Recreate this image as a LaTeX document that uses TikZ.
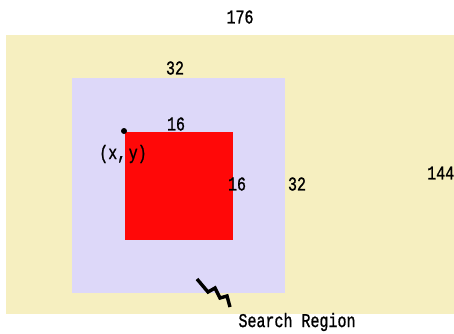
\documentclass[tikz,border=0pt]{standalone}
\usepackage{fontspec}
\setmainfont{Liberation Mono}[FakeBold=1.2]
\definecolor{sryellow}{RGB}{246,239,192}
\definecolor{srlav}{RGB}{221,216,249}
\definecolor{srred}{RGB}{255,8,8}
\newcommand{\srtxt}[1]{\scalebox{1}[1.3]{#1}}
\begin{document}
\begin{tikzpicture}[x=1pt,y=-1pt,
  lbl/.style={inner sep=0pt,font=\fontsize{15}{15}\selectfont},
  area/.style={draw=none,inner sep=0pt,anchor=north west}]
\useasboundingbox[fill=white] (0,0) rectangle (454,333);
\node[area,fill=sryellow,minimum width=450pt,minimum height=279pt] (search) at (6,35) {};
\node[area,fill=srlav,minimum width=213pt,minimum height=215pt] (win) at (72,78) {};
\node[area,fill=srred,minimum width=108pt,minimum height=108pt] (tmpl) at (125,132) {};
\fill (124,131) circle (3pt);
\node[lbl] (t176) at (240,17) {\srtxt{176}};
\node[lbl] (t32a) at (175,68) {\srtxt{32}};
\node[lbl] (t16a) at (176,124) {\srtxt{16}};
\node[lbl] (txy) at (123,154) {\srtxt{(x,\,y)}};
\node[lbl] (t16b) at (237,184) {\srtxt{16}};
\node[lbl] (t32b) at (297,184) {\srtxt{32}};
\node[lbl,anchor=west] (t144) at (427,173) {\srtxt{144}};
\node[lbl] (tsr) at (297,322) {\srtxt{Search Region}};
\coordinate (zs) at (197,279);
\coordinate (ze) at (230,307);
\draw[line width=3.4pt,line join=miter] (zs) -- (208,292) -- (215,288) -- (220,298) -- (227,296) -- (ze);
\end{tikzpicture}
\end{document}
